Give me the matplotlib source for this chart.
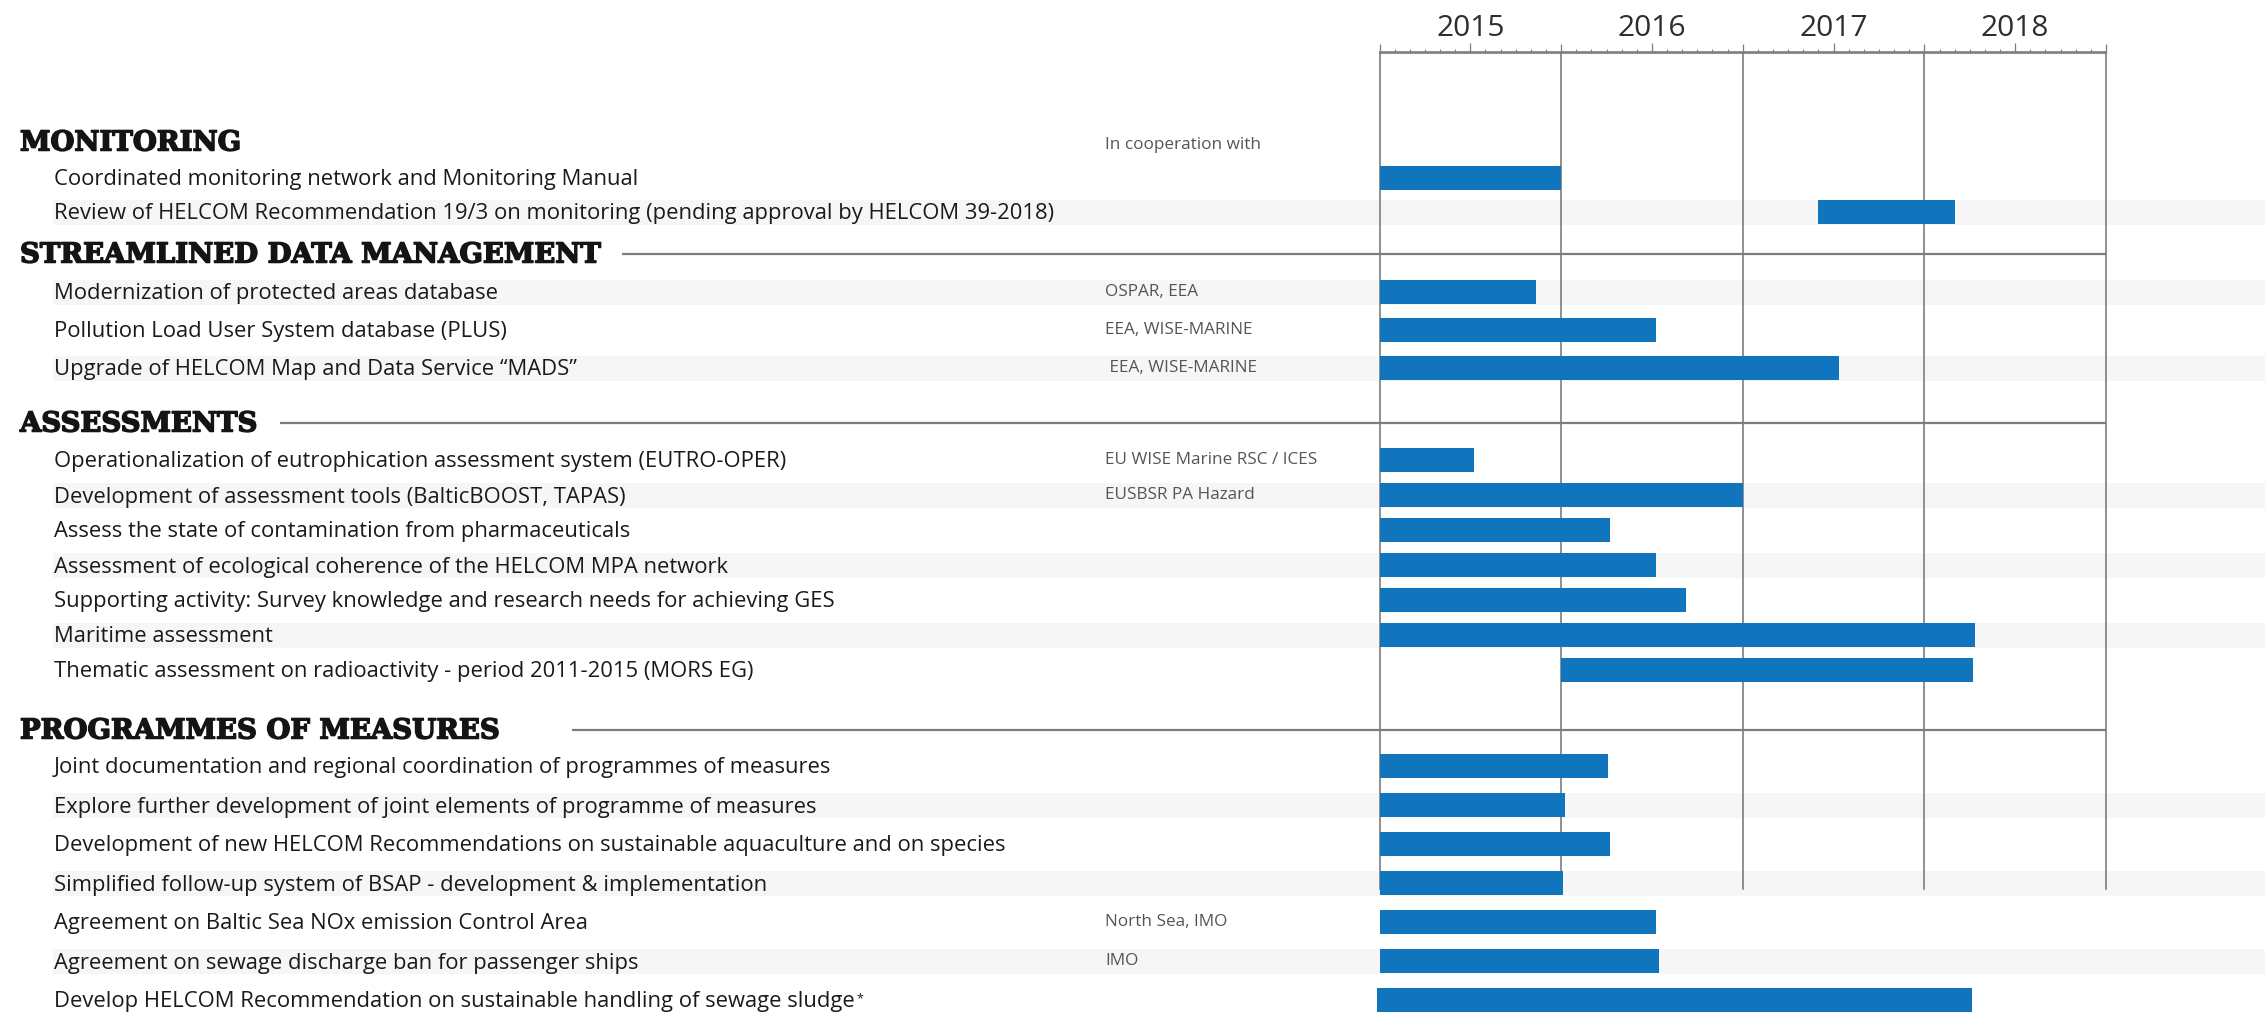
import matplotlib.pyplot as plt
import matplotlib.patheffects as pe
import numpy as np
from matplotlib.ticker import MultipleLocator

# ---- data ----
section_names = ['MONITORING', 'STREAMLINED DATA MANAGEMENT', 'ASSESSMENTS', 'PROGRAMMES OF MEASURES']
section_sizes = [2, 3, 7, 7]

labels = [
    'Coordinated monitoring network and Monitoring Manual',
    'Review of HELCOM Recommendation 19/3 on monitoring (pending approval by HELCOM 39-2018)',
    'Modernization of protected areas database',
    'Pollution Load User System database (PLUS)',
    'Upgrade of HELCOM Map and Data Service \u201cMADS\u201d',
    'Operationalization of eutrophication assessment system (EUTRO-OPER)',
    'Development of assessment tools (BalticBOOST, TAPAS)',
    'Assess the state of contamination from pharmaceuticals',
    'Assessment of ecological coherence of the HELCOM MPA network',
    'Supporting activity: Survey knowledge and research needs for achieving GES',
    'Maritime assessment',
    'Thematic assessment on radioactivity - period 2011-2015 (MORS EG)',
    'Joint documentation and regional coordination of programmes of measures',
    'Explore further development of joint elements of programme of measures',
    'Development of new HELCOM Recommendations on sustainable aquaculture and on species',
    'Simplified follow-up system of BSAP - development & implementation',
    'Agreement on Baltic Sea NOx emission Control Area',
    'Agreement on sewage discharge ban for passenger ships',
    'Develop HELCOM Recommendation on sustainable handling of sewage sludge',
]
partners = ['', '', 'OSPAR, EEA', 'EEA, WISE-MARINE', ' EEA, WISE-MARINE',
            'EU WISE Marine RSC / ICES', 'EUSBSR PA Hazard', '', '', '', '', '',
            '', '', '', '', 'North Sea, IMO', 'IMO', '']
starts = [2015.0, 2017.415, 2015.0, 2015.0, 2015.0,
          2015.0, 2015.0, 2015.0, 2015.0, 2015.0, 2015.0, 2016.0,
          2015.0, 2015.0, 2015.0, 2015.0, 2015.0, 2015.0, 2014.985]
ends = [2016.0, 2018.17, 2015.86, 2016.52, 2017.53,
        2015.52, 2017.0, 2016.27, 2016.52, 2016.69, 2018.28, 2018.27,
        2016.26, 2016.02, 2016.27, 2016.01, 2016.52, 2016.54, 2018.26]
years = [2015, 2016, 2017, 2018]
cooperation_note = 'In cooperation with'
footnote_mark = '*'

# ---- layout (pixels of the 2265 x 1014 canvas) ----
W, H = 2265, 1014
header_y = [140, 252, 421, 728]
first_row_y = [178, 292, 460, 766]
row_pitch = [34, 38, 35, 39]
rule_start = [None, 622, 280, 572]
striped = {1, 2, 4, 6, 8, 10, 13, 15, 17}
axis_y, grid_bottom = 52.5, 889
time_left, time_right = 1379.5, 2106

bar_color = '#1075bc'
stripe_color = '#f6f6f6'
line_color = '#7d7d7d'
label_font = 'Open Sans'
header_color = '#141414'

row_y = []
for s, n in enumerate(section_sizes):
    row_y += [first_row_y[s] + i * row_pitch[s] for i in range(n)]
row_y = np.array(row_y)

fig = plt.figure(figsize=(W / 100, H / 100), dpi=100)
ax_bg = fig.add_axes([0, 0, 1, 1])
ax_bg.set_xlim(0, W)
ax_bg.set_ylim(H, 0)
ax_bg.axis('off')

ax = fig.add_axes([time_left / W, (H - grid_bottom) / H,
                   (time_right - time_left) / W, (grid_bottom - axis_y) / H])
ax.set_xlim(years[0], years[-1] + 1)
ax.set_ylim(grid_bottom, axis_y)
ax.patch.set_alpha(0)

# background stripes
for i in sorted(striped):
    ax_bg.barh(row_y[i], W - 53, left=53, height=25, color=stripe_color, zorder=0)

# section headers and rules
for s, name in enumerate(section_names):
    ax_bg.text(20, header_y[s] + 10.5, name, fontfamily='DejaVu Serif',
               fontweight='bold', fontsize=19.8, color=header_color, va='baseline',
               path_effects=[pe.withStroke(linewidth=1.1, foreground=header_color)])
    if rule_start[s] is not None:
        ax_bg.plot([rule_start[s], time_right], [header_y[s] + 1.5] * 2,
                   color=line_color, lw=1.6, solid_capstyle='butt', zorder=2)

ax_bg.text(1105, 145, cooperation_note, fontfamily=label_font, fontsize=12.3,
           color='#555555', va='center')

# row labels and partners
for i, lab in enumerate(labels):
    t = ax_bg.text(54, row_y[i] + 7.5, lab, fontfamily=label_font, fontsize=15.8,
                   color='#1a1a1a', va='baseline')
    if partners[i]:
        ax_bg.text(1105, row_y[i], partners[i], fontfamily=label_font, fontsize=12.3,
                   color='#555555', va='center')
last = t
ax_bg.annotate(footnote_mark, xy=(1.002, 0.95), xycoords=last, fontsize=9,
               fontfamily=label_font, color='#1a1a1a', va='top', ha='left')

# year grid lines
for y in years + [years[-1] + 1]:
    ax.axvline(y, color=line_color, lw=1.2, clip_on=False, zorder=1)

# gantt bars
ax.barh(row_y, np.array(ends) - np.array(starts), left=starts, height=24,
        color=bar_color, zorder=3, clip_on=False)

# time scale on top
for side in ['left', 'right', 'bottom']:
    ax.spines[side].set_visible(False)
ax.spines['top'].set_color(line_color)
ax.spines['top'].set_linewidth(1.2)
ax.set_yticks([])
ax.xaxis.set_major_locator(MultipleLocator(1))
ax.xaxis.set_minor_locator(MultipleLocator(1 / 12))
ax.tick_params(axis='x', which='both', top=True, bottom=False,
               labeltop=False, labelbottom=False, color=line_color)
ax.tick_params(axis='x', which='major', length=6.8, width=0.9)
ax.tick_params(axis='x', which='minor', length=3.1, width=0.8)

sec = ax.secondary_xaxis('top')
sec.set_xticks([y + 0.5 for y in years], labels=[str(y) for y in years])
sec.tick_params(length=6.8, width=0.9, color=line_color, labelsize=21.5,
                labelcolor='#2e2e2e', pad=0)
sec.spines['top'].set_color(line_color)
sec.spines['top'].set_linewidth(1.2)
for lab in sec.get_xticklabels():
    lab.set_fontfamily(label_font)

fig.savefig('out.png', dpi=100)
